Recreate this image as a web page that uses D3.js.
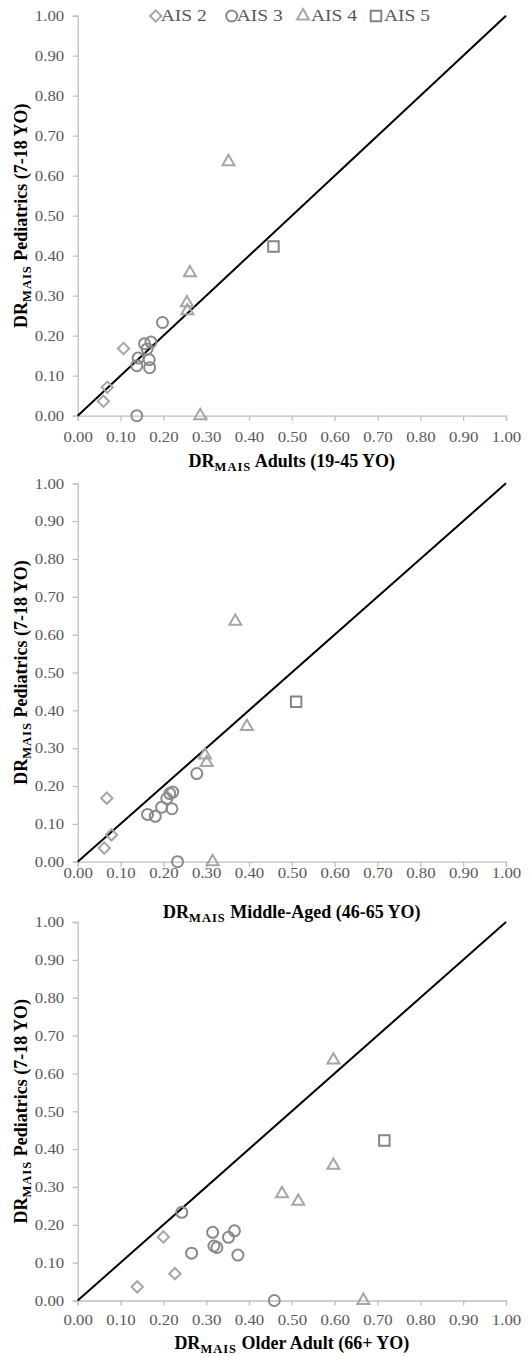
<!DOCTYPE html>
<html>
<head>
<meta charset="utf-8">
<script src="https://cdn.jsdelivr.net/npm/d3@7"></script>
<style>
  body { margin: 0; background: #fff; }
  svg { display: block; }
  svg text { font-family: "Times New Roman", "Liberation Serif", Times, "DejaVu Serif", serif; }
</style>
</head>
<body>
<script>
// pediatric (7-18 YO) death rates, shared by all three panels
let ais2Ped = [0.168, 0.071, 0.036];
let ais3Ped = [0.233, 0.184, 0.180, 0.167, 0.144, 0.140, 0.125, 0.120, 0.0];
let ais4Ped = [0.635, 0.357, 0.282, 0.262, 0.0];
let ais5Ped = [0.423];

// adults (19-45 YO)
let ais2Adult = [0.107, 0.069, 0.060];
let ais3Adult = [0.198, 0.171, 0.156, 0.162, 0.141, 0.167, 0.138, 0.168, 0.138];
let ais4Adult = [0.352, 0.262, 0.255, 0.256, 0.286];
let ais5Adult = [0.457];

// middle-aged (46-65 YO)
let ais2Middle = [0.068, 0.079, 0.062];
let ais3Middle = [0.278, 0.222, 0.215, 0.208, 0.196, 0.220, 0.163, 0.181, 0.233];
let ais4Middle = [0.368, 0.395, 0.297, 0.301, 0.315];
let ais5Middle = [0.510];

// older adult (66+ YO)
let ais2Older = [0.200, 0.227, 0.139];
let ais3Older = [0.243, 0.366, 0.315, 0.352, 0.318, 0.325, 0.266, 0.374, 0.459];
let ais4Older = [0.597, 0.597, 0.477, 0.515, 0.667];
let ais5Older = [0.716];

let legendLabels = ['AIS 2', 'AIS 3', 'AIS 4', 'AIS 5'];
let xTitles = ['Adults (19-45 YO)', 'Middle-Aged (46-65 YO)', 'Older Adult (66+ YO)'];
let yTitle = 'Pediatrics (7-18 YO)';
let tickValues = d3.range(0, 1.0001, 0.1);

let width = 529;
let height = 1357;
let stretch = 1.12; // tick text in the picture is a bit wider than tall

let svg = d3.select('body')
  .append('svg')
  .attr('width', width)
  .attr('height', height);

// marker look per AIS level
let styles = [
  { shape: 'diamond', color: '#a6a6a6' },
  { shape: 'circle', color: '#8a8a8a' },
  { shape: 'triangle', color: '#a6a6a6' },
  { shape: 'square', color: '#858585' }
];

function symbolPath(shape) {
  if (shape === 'circle') return d3.symbol().type(d3.symbolCircle).size(95)();
  if (shape === 'square') return d3.symbol().type(d3.symbolSquare).size(110)();
  if (shape === 'triangle') return d3.symbol().type(d3.symbolTriangle).size(62)();
  return d3.symbol().type(d3.symbolSquare).size(64)();
}

function zip(xs, ys) {
  return xs.map(function (x, i) { return { x: x, y: ys[i] }; });
}

let panels = [
  { top: 15.7, bottom: 415.7, labelGap: 26, titleY: 466.7,
    series: [zip(ais2Adult, ais2Ped), zip(ais3Adult, ais3Ped), zip(ais4Adult, ais4Ped), zip(ais5Adult, ais5Ped)] },
  { top: 483.3, bottom: 861.7, labelGap: 16.5, titleY: 918,
    series: [zip(ais2Middle, ais2Ped), zip(ais3Middle, ais3Ped), zip(ais4Middle, ais4Ped), zip(ais5Middle, ais5Ped)] },
  { top: 922, bottom: 1300.5, labelGap: 24.5, titleY: 1349,
    series: [zip(ais2Older, ais2Ped), zip(ais3Older, ais3Ped), zip(ais4Older, ais4Ped), zip(ais5Older, ais5Ped)] }
];

let left = 77.7;
let right = 506;

panels.forEach(function (p, pi) {
  let x = d3.scaleLinear().domain([0, 1]).range([left, right]);
  let y = d3.scaleLinear().domain([0, 1]).range([p.bottom, p.top]);

  let g = svg.append('g');

  let xAxis = d3.axisBottom(x).tickValues(tickValues).tickFormat(d3.format('.2f')).tickSizeOuter(0).tickSize(5);
  let yAxis = d3.axisLeft(y).tickValues(tickValues).tickFormat(d3.format('.2f')).tickSizeOuter(0).tickSize(5);

  let gx = g.append('g')
    .attr('transform', 'translate(0,' + p.bottom + ')')
    .call(xAxis);
  let gy = g.append('g')
    .attr('transform', 'translate(' + left + ',0)')
    .call(yAxis);

  [gx, gy].forEach(function (ax) {
    ax.attr('font-family', null).attr('font-size', null);
    ax.select('.domain').attr('stroke', '#bfbfbf').attr('stroke-width', 1.3);
    ax.selectAll('.tick line').attr('stroke', '#bfbfbf').attr('stroke-width', 1.3);
    ax.selectAll('.tick text')
      .attr('fill', '#595959')
      .style('font-size', '15px');
  });
  gx.selectAll('.tick text')
    .attr('y', p.labelGap)
    .attr('dy', 0)
    .attr('transform', 'scale(' + stretch + ',1)');
  gy.selectAll('.tick text')
    .attr('x', -13.5 / stretch)
    .attr('transform', 'scale(' + stretch + ',1)');

  // 1:1 reference line
  g.append('line')
    .attr('x1', x(0)).attr('y1', y(0))
    .attr('x2', x(1)).attr('y2', y(1))
    .attr('stroke', '#000')
    .attr('stroke-width', 2);

  // points
  p.series.forEach(function (data, si) {
    let st = styles[si];
    g.selectAll('.pt' + si)
      .data(data)
      .enter()
      .append('path')
      .attr('class', 'pt' + si)
      .attr('d', symbolPath(st.shape))
      .attr('transform', function (d) {
        let t = 'translate(' + x(d.x) + ',' + y(d.y) + ')';
        return st.shape === 'diamond' ? t + ' rotate(45)' : t;
      })
      .attr('fill', 'none')
      .attr('stroke', st.color)
      .attr('stroke-width', 2);
  });

  // x title
  let xt = g.append('text')
    .attr('x', (left + right) / 2)
    .attr('y', p.titleY)
    .attr('text-anchor', 'middle')
    .style('font-size', '18px')
    .style('font-weight', 'bold');
  xt.append('tspan').text('DR');
  xt.append('tspan').attr('dy', 4).style('font-size', '12.5px').attr('letter-spacing', 1).text('MAIS');
  xt.append('tspan').attr('dy', -4).text(' ' + xTitles[pi]);

  // y title
  let yt = g.append('text')
    .attr('transform', 'translate(27,' + (p.top + p.bottom) / 2 + ') rotate(-90)')
    .attr('text-anchor', 'middle')
    .style('font-size', '18px')
    .style('font-weight', 'bold');
  yt.append('tspan').text('DR');
  yt.append('tspan').attr('dy', 4).style('font-size', '12.5px').attr('letter-spacing', 1).text('MAIS');
  yt.append('tspan').attr('dy', -4).text(' ' + yTitle);
});

// legend
let legendX = [155.7, 231.7, 303, 376];
let legend = svg.append('g');
legendLabels.forEach(function (label, i) {
  let st = styles[i];
  legend.append('path')
    .attr('d', symbolPath(st.shape))
    .attr('transform', 'translate(' + legendX[i] + ',16)' + (st.shape === 'diamond' ? ' rotate(45)' : ''))
    .attr('fill', 'none')
    .attr('stroke', st.color)
    .attr('stroke-width', 2);
  legend.append('text')
    .attr('x', (legendX[i] + (st.shape === 'triangle' || st.shape === 'square' ? 8 : 5)) / 1.15)
    .attr('y', 21.5)
    .attr('transform', 'scale(1.15,1)')
    .attr('fill', '#595959')
    .style('font-size', '17px')
    .text(label);
});
</script>
</body>
</html>
